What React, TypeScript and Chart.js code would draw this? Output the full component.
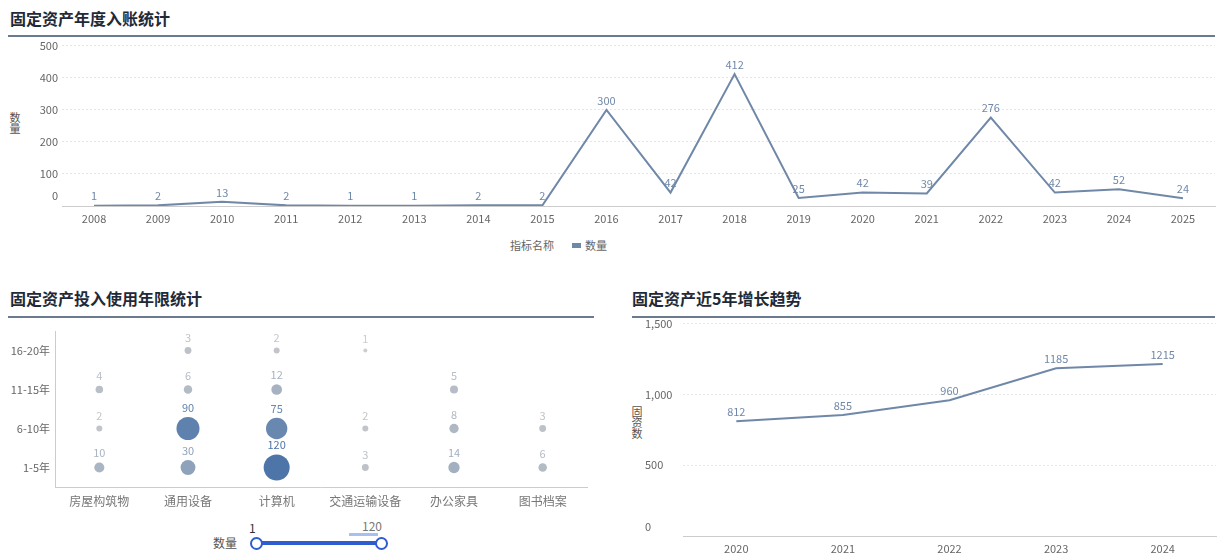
import React, { useEffect, useRef } from "react";
import { Chart, registerables } from "chart.js";

Chart.register(...registerables);

const FONT = "'Noto Sans CJK SC', 'Noto Sans', sans-serif";

// ---- Chart 1: 年度入账统计 ----
const years = ["2008", "2009", "2010", "2011", "2012", "2013", "2014", "2015", "2016", "2017", "2018", "2019", "2020", "2021", "2022", "2023", "2024", "2025"];
const yearCounts = [1, 2, 13, 2, 1, 1, 2, 2, 300, 42, 412, 25, 42, 39, 276, 42, 52, 24];

// ---- Chart 2: 投入使用年限统计 ----
const assetTypes = ["房屋构筑物", "通用设备", "计算机", "交通运输设备", "办公家具", "图书档案"];
const ageBands = ["16-20年", "11-15年", "6-10年", "1-5年"];
const band16to20 = [0, 3, 2, 1, 0, 0];
const band11to15 = [4, 6, 12, 0, 5, 0];
const band6to10 = [2, 90, 75, 2, 8, 3];
const band1to5 = [10, 30, 120, 3, 14, 6];
const bandValues = [band16to20, band11to15, band6to10, band1to5];
const visualMin = 1;
const visualMax = 120;

// ---- Chart 3: 近5年增长趋势 ----
const growthYears = ["2020", "2021", "2022", "2023", "2024"];
const growthCounts = [812, 855, 960, 1185, 1215];

const LINE_COLOR = "#7088a8";

function mixColor(v: number) {
  const t = Math.max(0, Math.min(1, (v - visualMin) / (visualMax - visualMin)));
  const a = [205, 205, 205];
  const b = [78, 117, 168];
  const c = a.map((x, i) => Math.round(x + (b[i] - x) * Math.sqrt(t)));
  return `rgb(${c[0]},${c[1]},${c[2]})`;
}

const valueLabels = {
  id: "valueLabels",
  afterDatasetsDraw(chart: any, _args: any, opts: any) {
    if (!opts || !opts.display) return;
    const ctx = chart.ctx;
    ctx.save();
    ctx.font = `${opts.size || 11}px ${FONT}`;
    ctx.textAlign = "center";
    ctx.textBaseline = "bottom";
    chart.data.datasets.forEach((ds: any, i: number) => {
      const meta = chart.getDatasetMeta(i);
      meta.data.forEach((el: any, j: number) => {
        const raw = ds.data[j];
        const v = typeof raw === "number" ? raw : raw.v;
        const r = el.options && el.options.radius ? el.options.radius : 0;
        ctx.fillStyle = opts.color ? opts.color : mixColor(v);
        ctx.fillText(String(v), el.x, el.y - r - 4);
      });
    });
    ctx.restore();
  },
};

function useChart(ref: React.RefObject<HTMLCanvasElement>, make: () => any) {
  useEffect(() => {
    if (!ref.current) return;
    const chart = new Chart(ref.current, make());
    return () => chart.destroy();
  }, []);
}

const tickFont = { family: FONT, size: 11 };
const zeroUp = (value: any) => (Number(value) === 0 ? ["0", ""] : Number(value).toLocaleString("en-US"));

export default function App() {
  const c1 = useRef<HTMLCanvasElement>(null);
  const c2 = useRef<HTMLCanvasElement>(null);
  const c3 = useRef<HTMLCanvasElement>(null);

  useChart(c1 as any, () => ({
    type: "line",
    data: {
      labels: years,
      datasets: [
        {
          label: "数量",
          data: yearCounts,
          borderColor: LINE_COLOR,
          backgroundColor: LINE_COLOR,
          borderWidth: 2,
          pointRadius: 0,
          tension: 0,
        },
      ],
    },
    plugins: [valueLabels],
    options: {
      animation: false,
      responsive: true,
      maintainAspectRatio: false,
      layout: { padding: { left: 0, right: 14, top: 10, bottom: 0 } },
      plugins: {
        legend: { display: false },
        tooltip: { enabled: false },
        valueLabels: { display: true, color: LINE_COLOR, size: 11 },
      },
      scales: {
        x: {
          offset: true,
          grid: { display: false, drawTicks: false },
          border: { color: "#cccccc" },
          ticks: { color: "#666", font: tickFont, padding: 6, maxRotation: 0, autoSkip: false },
          afterFit: (s: any) => { s.height = 26; },
        },
        y: {
          min: 0,
          max: 500,
          ticks: {
            stepSize: 100,
            color: "#666",
            font: { family: FONT, size: 11, lineHeight: 1.8 },
            padding: 4,
            autoSkip: false,
            callback: zeroUp,
          },
          grid: { color: "#e6e6e6", drawTicks: false },
          border: { display: false, dash: [2, 2] },
          afterFit: (s: any) => { s.width = 62; },
        },
      },
    },
  }));

  useChart(c2 as any, () => {
    const pts: any[] = [];
    bandValues.forEach((row, bi) => {
      row.forEach((v, ti) => {
        if (v > 0) pts.push({ x: assetTypes[ti], y: ageBands[bi], v });
      });
    });
    return {
      type: "scatter",
      data: {
        datasets: [
          {
            label: "数量",
            data: pts,
            pointRadius: (ctx: any) => {
              const v = ctx.raw ? ctx.raw.v : 1;
              return 2 + 11 * Math.sqrt((v - visualMin) / (visualMax - visualMin));
            },
            pointBackgroundColor: (ctx: any) => mixColor(ctx.raw ? ctx.raw.v : 1),
            pointBorderWidth: 0,
          },
        ],
      },
      plugins: [valueLabels],
      options: {
        animation: false,
        responsive: true,
        maintainAspectRatio: false,
        layout: { padding: { left: 0, right: 6, top: 3, bottom: 0 } },
        plugins: {
          legend: { display: false },
          tooltip: { enabled: false },
          valueLabels: { display: true, size: 11 },
        },
        scales: {
          x: {
            type: "category",
            labels: assetTypes,
            offset: true,
            grid: { display: false, drawTicks: false },
            border: { color: "#cccccc" },
            ticks: { color: "#777", font: { family: FONT, size: 12 }, padding: 7, maxRotation: 0, autoSkip: false },
            afterFit: (s: any) => { s.height = 25; },
          },
          y: {
            type: "category",
            labels: ageBands,
            offset: true,
            grid: { display: false, drawTicks: false },
            border: { color: "#cccccc" },
            ticks: { color: "#666", font: tickFont, padding: 5, autoSkip: false },
            afterFit: (s: any) => { s.width = 55; },
          },
        },
      },
    };
  });

  useChart(c3 as any, () => ({
    type: "line",
    data: {
      labels: growthYears,
      datasets: [
        {
          label: "固资数",
          data: growthCounts,
          borderColor: LINE_COLOR,
          backgroundColor: LINE_COLOR,
          borderWidth: 2,
          pointRadius: 0,
          tension: 0,
        },
      ],
    },
    plugins: [valueLabels],
    options: {
      animation: false,
      responsive: true,
      maintainAspectRatio: false,
      layout: { padding: { left: 35, right: 13, top: 9, bottom: 0 } },
      plugins: {
        legend: { display: false },
        tooltip: { enabled: false },
        valueLabels: { display: true, color: LINE_COLOR, size: 11 },
      },
      scales: {
        x: {
          offset: true,
          grid: { display: false, drawTicks: false },
          border: { color: "#cccccc" },
          ticks: { color: "#666", font: tickFont, padding: 6, maxRotation: 0 },
          afterFit: (s: any) => { s.height = 22; },
        },
        y: {
          min: 0,
          max: 1500,
          ticks: {
            stepSize: 500,
            color: "#666",
            font: { family: FONT, size: 11, lineHeight: 1.6 },
            crossAlign: "far",
            autoSkip: false,
            callback: zeroUp,
          },
          grid: { color: "#e6e6e6", drawTicks: false },
          border: { display: false, dash: [2, 2] },
          afterFit: (s: any) => { s.width = 38; },
        },
      },
    },
  }));

  const abs = (l: number, t: number, w: number, h: number): React.CSSProperties => ({
    position: "absolute",
    left: l,
    top: t,
    width: w,
    height: h,
  });
  const titleStyle = (l: number, t: number): React.CSSProperties => ({
    position: "absolute",
    left: l,
    top: t,
    fontFamily: FONT,
    fontSize: 16,
    fontWeight: 700,
    color: "#1f2a38",
    lineHeight: "20px",
    whiteSpace: "nowrap",
  });
  const rule = (l: number, t: number, w: number): React.CSSProperties => ({
    position: "absolute",
    left: l,
    top: t,
    width: w,
    height: 2,
    background: "#6b7a8f",
  });
  const small: React.CSSProperties = { fontFamily: FONT, fontSize: 11, color: "#666" };

  return (
    <div style={{ position: "fixed", left: 0, top: 0, width: 1229, height: 554, background: "#fff", overflow: "hidden" }}>
      {/* Top panel */}
      <div style={titleStyle(10, 8)}>固定资产年度入账统计</div>
      <div style={rule(8, 35, 1207)} />
      <div style={{ ...small, position: "absolute", left: 9, top: 112, writingMode: "vertical-rl", lineHeight: "12px", color: "#555" }}>数量</div>
      <div style={abs(0, 32, 1229, 200)}>
        <canvas ref={c1} />
      </div>
      <div style={{ ...small, position: "absolute", left: 510, top: 237, display: "flex", alignItems: "center", whiteSpace: "nowrap" }}>
        <span>指标名称</span>
        <span style={{ display: "inline-block", width: 9, height: 5, background: LINE_COLOR, marginLeft: 18, marginRight: 4 }} />
        <span>数量</span>
      </div>

      {/* Bottom left panel */}
      <div style={titleStyle(10, 288)}>固定资产投入使用年限统计</div>
      <div style={rule(8, 316, 586)} />
      <div style={abs(0, 318, 600, 194)}>
        <canvas ref={c2} />
      </div>
      <div style={{ fontFamily: FONT, fontSize: 12, color: "#555", position: "absolute", left: 213, top: 534 }}>数量</div>
      <div style={{ fontFamily: FONT, fontSize: 12, color: "#333", position: "absolute", left: 249, top: 519 }}>{String(visualMin)}</div>
      <div style={{ fontFamily: FONT, fontSize: 12, color: "#777", position: "absolute", left: 362, top: 517 }}>{String(visualMax)}</div>
      <div style={{ position: "absolute", left: 349, top: 533, width: 29, height: 3, background: "#a9bff2" }} />
      <div style={{ position: "absolute", left: 256, top: 541, width: 125, height: 4, background: "#2f5ccf" }} />
      <div style={{ position: "absolute", left: 250, top: 537, width: 9, height: 9, borderRadius: "50%", border: "2px solid #2f5ccf", background: "#fff" }} />
      <div style={{ position: "absolute", left: 375, top: 537, width: 9, height: 9, borderRadius: "50%", border: "2px solid #2f5ccf", background: "#fff" }} />

      {/* Bottom right panel */}
      <div style={titleStyle(632, 288)}>固定资产近5年增长趋势</div>
      <div style={rule(632, 316, 583)} />
      <div style={{ ...small, position: "absolute", left: 631, top: 406, writingMode: "vertical-rl", lineHeight: "12px", color: "#555" }}>固资数</div>
      <div style={abs(610, 312, 619, 246)}>
        <canvas ref={c3} />
      </div>
    </div>
  );
}
